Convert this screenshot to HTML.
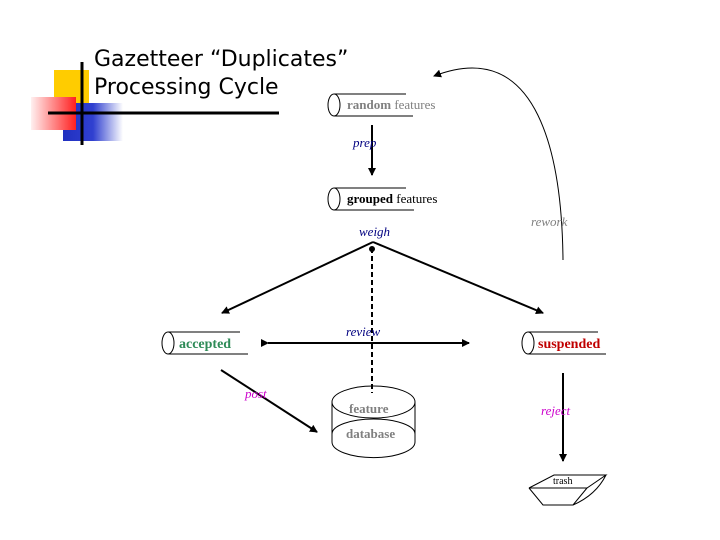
<!DOCTYPE html><html><head><style>body{margin:0;background:#fff}svg{display:block}</style></head><body>
<svg width="720" height="540" viewBox="0 0 720 540" xmlns="http://www.w3.org/2000/svg">
<defs>
<linearGradient id="r" x1="0" y1="0" x2="1" y2="0"><stop offset="0" stop-color="#fff0f0"/><stop offset="1" stop-color="#ff2020"/></linearGradient>
<linearGradient id="rv" x1="0" y1="0" x2="0" y2="1"><stop offset="0" stop-color="#ff3030" stop-opacity="0"/><stop offset="1" stop-color="#fff" stop-opacity="0.6"/></linearGradient>
<linearGradient id="b" x1="0" y1="0" x2="1" y2="0"><stop offset="0" stop-color="#2030c0"/><stop offset="0.5" stop-color="#3040d0"/><stop offset="1" stop-color="#fff"/></linearGradient>
<marker id="a" markerWidth="8" markerHeight="8" refX="7" refY="4" orient="auto" markerUnits="userSpaceOnUse"><path d="M0,0L8,4L0,8z" fill="#000"/></marker>
</defs>
<rect x="54" y="70" width="35" height="34" fill="#ffcc00"/>
<rect x="63" y="103" width="60" height="38" fill="url(#b)"/>
<rect x="31" y="97" width="45" height="33" fill="url(#r)"/>
<line x1="82" y1="62" x2="82" y2="145" stroke="#000" stroke-width="3"/>
<line x1="48" y1="113" x2="279" y2="113" stroke="#000" stroke-width="3"/>
<text x="94" y="66" font-family="DejaVu Sans, sans-serif" font-size="22" fill="#000">Gazetteer “Duplicates”</text>
<text x="94" y="94" font-family="DejaVu Sans, sans-serif" font-size="22" fill="#000">Processing Cycle</text>
<g font-family="Liberation Serif, serif" font-size="13" fill="none" stroke="#000" stroke-width="1">
<ellipse cx="334" cy="105" rx="6" ry="11"/><line x1="334" y1="94" x2="406" y2="94"/><line x1="334" y1="116" x2="413" y2="116"/>
<ellipse cx="334" cy="199" rx="6" ry="11"/><line x1="334" y1="188" x2="406" y2="188"/><line x1="334" y1="210" x2="414" y2="210"/>
<ellipse cx="168" cy="343" rx="6" ry="11"/><line x1="168" y1="332" x2="240" y2="332"/><line x1="168" y1="354" x2="248" y2="354"/>
<ellipse cx="528" cy="343" rx="6" ry="11"/><line x1="528" y1="332" x2="598" y2="332"/><line x1="528" y1="354" x2="606" y2="354"/>
<path d="M332,402 L332,442 A40,15 0 0 0 415,442 L415,402"/><ellipse cx="373.5" cy="402" rx="41.5" ry="16"/><path d="M332,434 A41.5,15 0 0 1 415,434"/>
<path d="M529,488 L554,475 L606,475 L587,488 Z M529,488 L543,505 L573,505 L587,488 M606,475 Q596,495 573,505"/>
</g>
<g stroke="#000" stroke-width="2" fill="none">
<line x1="372" y1="125" x2="372" y2="175" marker-end="url(#a)"/>
<line x1="373" y1="242" x2="222" y2="313" marker-end="url(#a)"/>
<line x1="373" y1="242" x2="543" y2="313" marker-end="url(#a)"/>
<line x1="372" y1="248" x2="372" y2="393" stroke-dasharray="5,3"/>
<line x1="268" y1="343" x2="469" y2="343" marker-start="url(#a)" marker-end="url(#a)"/>
<line x1="221" y1="370" x2="317" y2="432" marker-end="url(#a)"/>
<line x1="563" y1="373" x2="563" y2="461" marker-end="url(#a)"/>
</g>
<circle cx="372" cy="249" r="3" fill="#000"/>
<path d="M563,260 C562,160 540,35 434,76" stroke="#000" stroke-width="1" fill="none" marker-end="url(#a)"/>
<g font-family="Liberation Serif, serif" font-size="13">
<text x="347" y="109" fill="#808080"><tspan font-weight="bold">random</tspan> features</text>
<text x="347" y="203" fill="#000"><tspan font-weight="bold">grouped</tspan> features</text>
<text x="179" y="348" fill="#2e8b57" font-weight="bold" font-size="14">accepted</text>
<text x="538" y="348" fill="#c00000" font-weight="bold" font-size="14">suspended</text>
<text x="349" y="413" fill="#808080" font-weight="bold">feature</text>
<text x="346" y="438" fill="#808080" font-weight="bold">database</text>
<text x="553" y="484" fill="#000" font-size="10">trash</text>
<g font-style="italic">
<text x="353" y="147" fill="#000080">prep</text>
<text x="359" y="236" fill="#000080">weigh</text>
<text x="346" y="336" fill="#000080">review</text>
<text x="531" y="226" fill="#808080">rework</text>
<text x="245" y="398" fill="#cc00cc">post</text>
<text x="541" y="415" fill="#cc00cc">reject</text>
</g></g>
</svg></body></html>
